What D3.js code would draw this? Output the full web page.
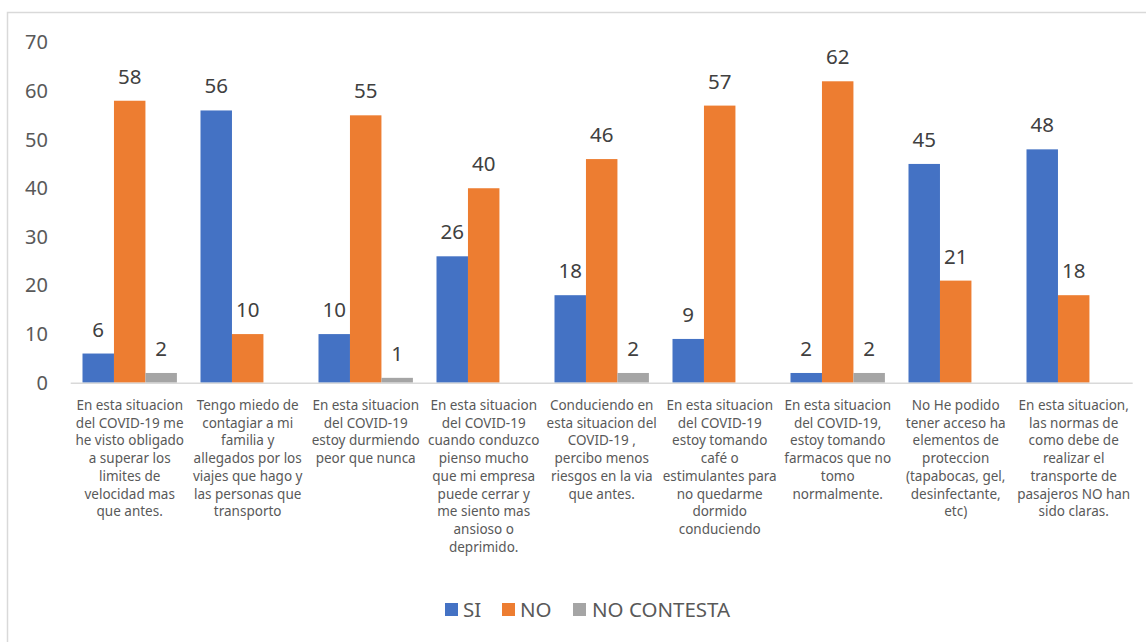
<!DOCTYPE html>
<html>
<head>
<meta charset="utf-8">
<script src="https://cdn.jsdelivr.net/npm/d3@7"></script>
<style>
  html, body { margin: 0; padding: 0; background: #fff; }
  svg { display: block; font-family: "Noto Sans", "Open Sans", sans-serif; }
</style>
</head>
<body>
<svg id="chart" width="1146" height="642"></svg>
<script>
// Survey answers per statement
const categories = [
  "En esta situacion\ndel COVID-19 me\nhe visto obligado\na superar los\nlimites de\nvelocidad mas\nque antes.",
  "Tengo miedo de\ncontagiar a mi\nfamilia y\nallegados por los\nviajes que hago y\nlas personas que\ntransporto",
  "En esta situacion\ndel COVID-19\nestoy durmiendo\npeor que nunca",
  "En esta situacion\ndel COVID-19\ncuando conduzco\npienso mucho\nque mi empresa\npuede cerrar y\nme siento mas\nansioso o\ndeprimido.",
  "Conduciendo en\nesta situacion del\nCOVID-19 ,\npercibo menos\nriesgos en la via\nque antes.",
  "En esta situacion\ndel COVID-19\nestoy tomando\ncafé o\nestimulantes para\nno quedarme\ndormido\nconduciendo",
  "En esta situacion\ndel COVID-19,\nestoy tomando\nfarmacos que no\ntomo\nnormalmente.",
  "No He podido\ntener acceso ha\nelementos de\nproteccion\n(tapabocas, gel,\ndesinfectante,\netc)",
  "En esta situacion,\nlas normas de\ncomo debe de\nrealizar el\ntransporte de\npasajeros NO han\nsido claras."
];
const seriesNames = ["SI", "NO", "NO CONTESTA"];
const siValues = [6, 56, 10, 26, 18, 9, 2, 45, 48];
const noValues = [58, 10, 55, 40, 46, 57, 62, 21, 18];
const noContestaValues = [2, null, 1, null, 2, null, 2, null, null];
const yTicks = [0, 10, 20, 30, 40, 50, 60, 70];

const seriesValues = [siValues, noValues, noContestaValues];
const colors = ["#4472C4", "#ED7D31", "#A5A5A5"];

const svg = d3.select("#chart");

// Chart frame
svg.append("path")
  .attr("d", "M7.5,642 V12.5 H1146")
  .attr("fill", "none")
  .attr("stroke", "#d9d9d9")
  .attr("stroke-width", 1.5);

const plotLeft = 70.7, plotRight = 1132.7;
const yBase = 382.7, yTop = 42.4;

const x0 = d3.scaleBand().domain(d3.range(categories.length)).range([plotLeft, plotRight]);
const bw = x0.bandwidth();
const x1 = d3.scaleBand().domain(d3.range(seriesNames.length)).range([bw * 0.1, bw * 0.9]);
const y = d3.scaleLinear().domain([0, 70]).range([yBase, yTop]);

// Y axis tick labels (no line, no gridlines)
const yAxis = d3.axisLeft(y).tickValues(yTicks).tickSize(0).tickPadding(0);
const yg = svg.append("g").attr("transform", `translate(48,0)`).call(yAxis);
yg.select(".domain").remove();
yg.selectAll("text")
  .attr("fill", "#595959")
  .style("font-size", "20px")
  .style("font-family", "\"Noto Sans\", sans-serif");

// Bars
const groups = svg.append("g").selectAll("g")
  .data(categories.map((c, i) => i))
  .join("g")
  .attr("transform", i => `translate(${x0(i)},0)`);

const barData = i => seriesValues.map((vals, s) => ({ s, v: vals[i] })).filter(d => d.v != null);

groups.selectAll("rect")
  .data(barData)
  .join("rect")
  .attr("x", d => x1(d.s))
  .attr("width", x1.bandwidth())
  .attr("y", d => y(d.v))
  .attr("height", d => y(0) - y(d.v))
  .attr("fill", d => colors[d.s]);

// Value labels above bars
groups.selectAll("text.val")
  .data(barData)
  .join("text")
  .attr("class", "val")
  .attr("x", d => x1(d.s) + x1.bandwidth() / 2)
  .attr("y", d => y(d.v) - 17)
  .attr("text-anchor", "middle")
  .attr("fill", "#404040")
  .style("font-size", "20.5px")
  .text(d => d.v);

// Baseline
svg.append("line")
  .attr("x1", plotLeft).attr("x2", plotRight)
  .attr("y1", y(0) + 0.5).attr("y2", y(0) + 0.5)
  .attr("stroke", "#d9d9d9")
  .attr("stroke-width", 1.5);

// Category labels (multi-line)
const catLabels = svg.append("g").selectAll("text")
  .data(categories)
  .join("text")
  .attr("x", (d, i) => x0(i) + bw / 2)
  .attr("y", 410)
  .attr("text-anchor", "middle")
  .attr("fill", "#595959")
  .style("font-size", "13.5px");
catLabels.each(function(d) {
  const t = d3.select(this);
  d.split("\n").forEach((line, k) => {
    t.append("tspan")
      .attr("x", t.attr("x"))
      .attr("dy", k === 0 ? 0 : 17.7)
      .text(line);
  });
});

// Legend
const legendItems = [
  { name: seriesNames[0], color: colors[0], sx: 445, tx: 463 },
  { name: seriesNames[1], color: colors[1], sx: 502, tx: 520 },
  { name: seriesNames[2], color: colors[2], sx: 573, tx: 592 }
];
const lg = svg.append("g");
lg.selectAll("rect")
  .data(legendItems)
  .join("rect")
  .attr("x", d => d.sx).attr("y", 603)
  .attr("width", 13).attr("height", 13)
  .attr("fill", d => d.color);
lg.selectAll("text")
  .data(legendItems)
  .join("text")
  .attr("x", d => d.tx).attr("y", 616.5)
  .attr("fill", "#595959")
  .style("font-size", "20.5px")
  .text(d => d.name);
</script>
</body>
</html>
